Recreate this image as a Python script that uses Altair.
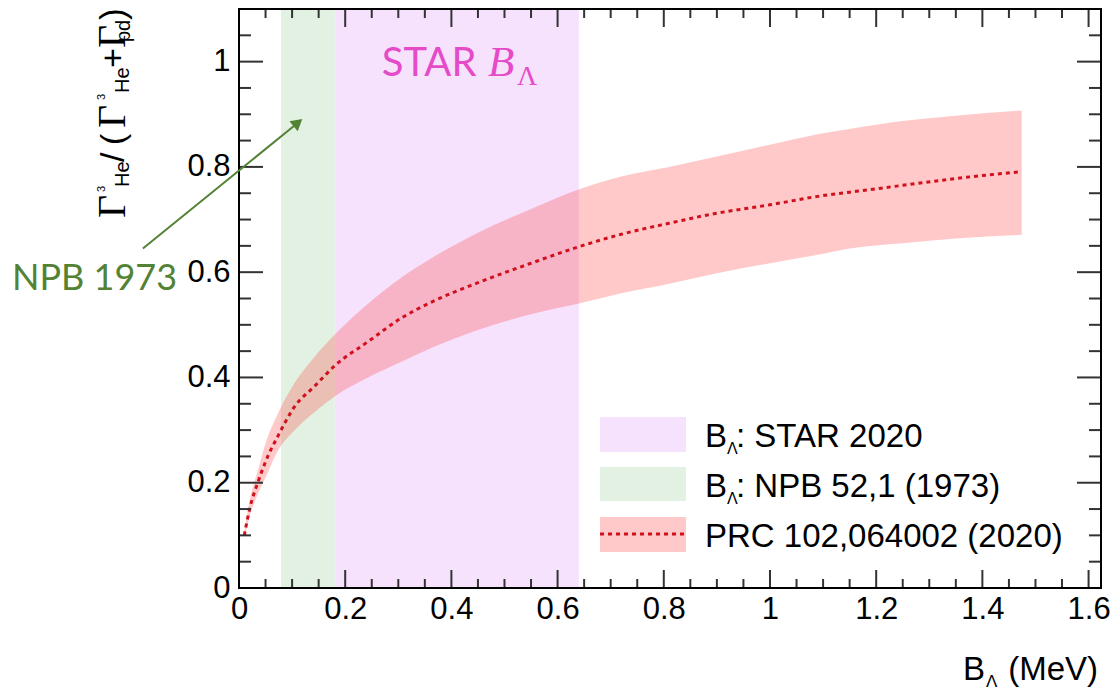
import altair as alt
import pandas as pd

# Gamma(3He) / (Gamma(3He) + Gamma(pd)) as a function of the Lambda binding energy
b_lambda = [0.01, 0.02, 0.036, 0.05, 0.074, 0.105, 0.143, 0.18, 0.243, 0.306, 0.36,
            0.45, 0.55, 0.642, 0.72, 0.81, 0.9, 1.0, 1.09, 1.15, 1.25, 1.35, 1.474]
ratio_central = [0.10, 0.15, 0.202, 0.24, 0.29, 0.345, 0.384, 0.422, 0.468, 0.513, 0.542,
                 0.58, 0.617, 0.649, 0.672, 0.693, 0.712, 0.728, 0.744, 0.752, 0.765, 0.778, 0.791]
ratio_high = [0.105, 0.165, 0.225, 0.275, 0.333, 0.39, 0.44, 0.481, 0.54, 0.59, 0.625,
              0.675, 0.72, 0.758, 0.782, 0.80, 0.82, 0.842, 0.862, 0.872, 0.887, 0.897, 0.907]
ratio_low = [0.095, 0.135, 0.18, 0.21, 0.262, 0.30, 0.335, 0.364, 0.40, 0.43, 0.455,
             0.49, 0.52, 0.541, 0.56, 0.578, 0.598, 0.617, 0.633, 0.645, 0.655, 0.664, 0.671]

# B_Lambda intervals
npb_1973 = [0.079, 0.18]
star_2020 = [0.18, 0.64]

# axis ticks and labels
x_major = [0, 0.2, 0.4, 0.6, 0.8, 1.0, 1.2, 1.4, 1.6]
y_major = [0, 0.2, 0.4, 0.6, 0.8, 1.0]
x_minor = [round(0.05 * i, 2) for i in range(33) if i % 4]
y_minor = [round(0.05 * i, 2) for i in range(22) if i % 4]

legend_labels = [": STAR 2020", ": NPB 52,1 (1973)", "PRC 102,064002 (2020)"]
star_label = ["STAR", "B", "Λ"]
npb_label = "NPB 1973"

W, H = 862, 579
X_MAX, Y_MAX = 1.6234, 1.1

PURPLE = "#F6E2FD"
GREEN = "#E2F1E2"
BAND = "#FF3838"
BAND_OPACITY = 0.27
LINE = "#D0101C"
OLIVE = "#548235"
MAGENTA = "#E54BC8"
SANS = "Liberation Sans"
SERIF = "Liberation Serif"

xs = alt.Scale(domain=[0, X_MAX], nice=False, zero=False)
ys = alt.Scale(domain=[0, Y_MAX], nice=False, zero=False)

x_axis = alt.Axis(values=x_major, format="~g", ticks=False, domain=False, grid=False,
                  labelFont=SANS, labelFontSize=31, labelColor="black", labelPadding=6,
                  labelFlush=False, title=None)
y_axis = alt.Axis(values=y_major, format="~g", ticks=False, domain=False, grid=False,
                  labelFont=SANS, labelFontSize=31, labelColor="black", labelPadding=9,
                  title=None)


def X(field):
    return alt.X(field, scale=xs, axis=x_axis)


def Y(field):
    return alt.Y(field, scale=ys, axis=y_axis)


one = pd.DataFrame({"k": [0]})


def txt(text, x, y, size, font=SANS, color="black", angle=0, align="left",
        style="normal", baseline="alphabetic"):
    return alt.Chart(one).mark_text(
        font=font, fontSize=size, color=color, angle=angle,
        align=align, baseline=baseline, fontStyle=style
    ).encode(x=alt.value(x), y=alt.value(y), text=alt.value(text))


def dtxt(text, x, y, size, font=SANS, color="black", style="normal"):
    df = pd.DataFrame({"x": [x], "y": [y]})
    return alt.Chart(df).mark_text(
        text=text, font=font, fontSize=size, color=color, align="left",
        baseline="alphabetic", fontStyle=style
    ).encode(x=X("x:Q"), y=Y("y:Q"))


curve = pd.DataFrame({"b": b_lambda, "r": ratio_central, "lo": ratio_low, "hi": ratio_high})


# vertical B_Lambda bands spanning the full plot height
def vband(rng, color):
    df = pd.DataFrame({"x0": [rng[0]], "x1": [rng[1]]})
    return alt.Chart(df).mark_rect(color=color).encode(
        x=X("x0:Q"), x2="x1:Q", y=alt.value(0), y2=alt.value(H))


star_band = vband(star_2020, PURPLE)
npb_band = vband(npb_1973, GREEN)

band = alt.Chart(curve).mark_area(color=BAND, opacity=BAND_OPACITY,
                                  interpolate="monotone").encode(
    x=X("b:Q"), y=Y("lo:Q"), y2="hi:Q")

line = alt.Chart(curve).mark_line(color=LINE, strokeWidth=3, strokeDash=[4, 4],
                                  interpolate="monotone").encode(
    x=X("b:Q"), y=Y("r:Q"))

# ROOT-style inward ticks on all four sides
TICK = "#333333"


def xticks(vals, length):
    df = pd.DataFrame({"v": vals})
    bottom = alt.Chart(df).mark_rule(color=TICK, strokeWidth=2).encode(
        x=X("v:Q"), y=alt.value(H), y2=alt.value(H - length))
    top = alt.Chart(df).mark_rule(color=TICK, strokeWidth=2).encode(
        x=X("v:Q"), y=alt.value(0), y2=alt.value(length))
    return [bottom, top]


def yticks(vals, length):
    df = pd.DataFrame({"v": vals})
    left = alt.Chart(df).mark_rule(color=TICK, strokeWidth=2).encode(
        y=Y("v:Q"), x=alt.value(0), x2=alt.value(length))
    right = alt.Chart(df).mark_rule(color=TICK, strokeWidth=2).encode(
        y=Y("v:Q"), x=alt.value(W), x2=alt.value(W - length))
    return [left, right]


ticks = xticks(x_major, 18) + xticks(x_minor, 9) + yticks(y_major, 24) + yticks(y_minor, 12)

frame = alt.Chart(one).mark_rect(filled=False, color="black", strokeWidth=2).encode(
    x=alt.value(0), x2=alt.value(W), y=alt.value(0), y2=alt.value(H))

# annotation arrow pointing at the NPB band
arrow_df = pd.DataFrame({"x": [-0.181], "y": [0.645], "x2": [0.111], "y2": [0.884]})
arrow_line = alt.Chart(arrow_df).mark_rule(color=OLIVE, strokeWidth=2).encode(
    x=X("x:Q"), y=Y("y:Q"), x2="x2:Q", y2="y2:Q")
head_df = pd.DataFrame({"x": [0.111], "y": [0.884]})
arrow_head = alt.Chart(head_df).mark_point(shape="triangle-up", filled=True, size=170,
                                           angle=50.7, color=OLIVE, opacity=1).encode(
    x=X("x:Q"), y=Y("y:Q"))

annotations = [
    dtxt(star_label[0], 0.269, 0.973, 40, font="Lato", color=MAGENTA),
    dtxt(star_label[1], 0.469, 0.973, 43, font=SERIF, color=MAGENTA, style="italic"),
    dtxt(star_label[2], 0.5235, 0.956, 28, font=SERIF, color=MAGENTA),
    dtxt(npb_label, -0.4275, 0.5665, 36, font="Lato", color=OLIVE),
    arrow_line, arrow_head,
]

# y-axis title: Γ_{3He}/(Γ_{3He}+Γ_{pd}), drawn piecewise and rotated
OX, OY = 239, 9
ytitle_pieces = [
    ("Γ", SERIF, 40, 218, 125),
    ("3", SANS, 11, 192, 105),
    ("He", SANS, 20, 187, 129),
    ("/", SANS, 34, 162, 124),
    ("(", SANS, 34, 145, 124),
    ("Γ", SERIF, 40, 128, 125),
    ("3", SANS, 11, 100, 105),
    ("He", SANS, 20, 93, 129),
    ("+", SANS, 34, 68, 124),
    ("Γ", SERIF, 40, 48, 125),
    ("pd", SANS, 20, 42, 130),
    (")", SANS, 35, 20, 125),
]
ytitle = [txt(t, bx - OX, by - OY, s, font=f, angle=270) for t, f, s, by, bx in ytitle_pieces]

# x-axis title: B_Λ (MeV)
xtitle = [
    txt("B", 963 - OX, 680 - OY, 33),
    txt("Λ", 986 - OX, 687 - OY, 17),
    txt("(MeV)", 1098 - OX, 680 - OY, 33, align="right"),
]

# legend
LX0, LX1 = 600 - OX, 686 - OX
TX = 705 - OX
legend = [
    alt.Chart(one).mark_rect(color=PURPLE).encode(
        x=alt.value(LX0), x2=alt.value(LX1), y=alt.value(417 - OY), y2=alt.value(452 - OY)),
    alt.Chart(one).mark_rect(color=GREEN).encode(
        x=alt.value(LX0), x2=alt.value(LX1), y=alt.value(467 - OY), y2=alt.value(501 - OY)),
    alt.Chart(one).mark_rect(color=BAND, opacity=BAND_OPACITY).encode(
        x=alt.value(LX0), x2=alt.value(LX1), y=alt.value(517 - OY), y2=alt.value(552 - OY)),
    alt.Chart(one).mark_rule(color=LINE, strokeWidth=3, strokeDash=[4, 4]).encode(
        x=alt.value(LX0), x2=alt.value(LX1), y=alt.value(534 - OY)),
]
for i, base in enumerate([447, 497]):
    legend += [
        txt("B", TX, base - OY, 33),
        txt("Λ", TX + 22, base + 7 - OY, 16),
        txt(legend_labels[i], TX + 31, base - OY, 33),
    ]
legend.append(txt(legend_labels[2], TX, 547 - OY, 33))

chart = alt.layer(
    star_band, npb_band, band, line, *ticks, frame, *annotations, *ytitle, *xtitle, *legend
).properties(
    width=W, height=H,
    padding={"left": OX, "top": OY, "right": 1114 - OX - W, "bottom": 688 - OY - H},
    autosize=alt.AutoSizeParams(type="none"),
    background="white",
).configure_view(strokeWidth=0)

chart.save("out.html", embed_options={"renderer": "svg", "actions": False})
